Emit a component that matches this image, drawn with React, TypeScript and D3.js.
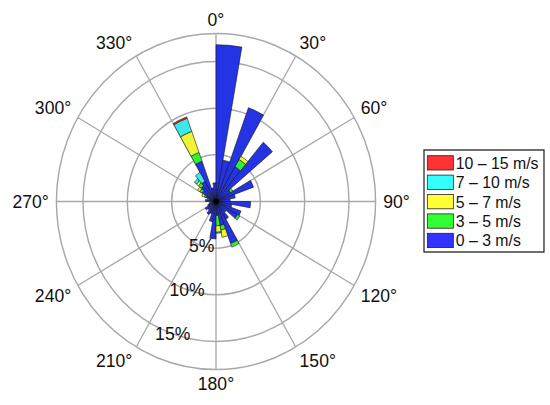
import React from 'react';
import * as d3 from 'd3';

// Direction bins (start angle, degrees clockwise from north), 10° wide
const directions = [0, 10, 20, 30, 40, 50, 60, 70, 80, 90, 100, 110, 120, 130, 140, 150, 160, 170,
  180, 190, 200, 210, 220, 230, 240, 250, 260, 270, 280, 290, 300, 310, 320, 330, 340, 350];

// Frequency (%) per speed class for each direction bin
const speed0to3 = [16.8, 4.5, 10.7, 4.3, 8.3, 1.9, 4.5, 2.2, 1.6, 3.9, 1.8, 3.0, 2.8, 1.5, 2.2, 4.8, 2.6, 1.5,
  4.0, 2.2, 1.4, 1.6, 1.2, 1.4, 1.0, 0.8, 0.6, 1.2, 0.8, 1.2, 1.8, 2.2, 2.5, 4.6, 1.5, 2.0];
const speed3to5 = [0, 0, 0, 0.9, 0, 0.3, 0, 0, 0, 0, 0, 0, 0.3, 0, 0, 0.4, 0.5, 1.1,
  0, 0, 0, 0, 0, 0, 0, 0, 0, 0, 0.2, 0.2, 0.3, 0.4, 0, 1.0, 0, 0];
const speed5to7 = [0, 0, 0, 0.4, 0, 0, 0, 0, 0, 0, 0, 0, 0, 0, 0, 0, 0.8, 0.7,
  0, 0, 0, 0, 0, 0, 0, 0, 0, 0, 0, 0.3, 0.3, 0.3, 0, 2.4, 0, 0];
const speed7to10 = [0, 0, 0, 0, 0, 0, 0, 0, 0, 0, 0, 0, 0, 0, 0, 0, 0, 0.1,
  0, 0, 0, 0, 0, 0, 0, 0, 0, 0, 0, 0, 0, 0.3, 1.1, 1.5, 0, 0];
const speed10to15 = [0, 0, 0, 0, 0, 0, 0, 0, 0, 0, 0, 0, 0, 0, 0, 0, 0, 0,
  0, 0, 0, 0, 0, 0, 0, 0, 0, 0, 0, 0, 0, 0, 0, 0.15, 0, 0];

const speedKeys = ['s0', 's1', 's2', 's3', 's4'];
const speedLabels = ['0 – 3 m/s', '3 – 5 m/s', '5 – 7 m/s', '7 – 10 m/s', '10 – 15 m/s'];
const barColors = ['#2434e4', '#33ee33', '#f0f533', '#3ce8e8', '#ff3333'];
const legendColors = ['#3333ff', '#33ff33', '#ffff33', '#33ffff', '#ff3333'];

const angleTicks = [0, 30, 60, 90, 120, 150, 180, 210, 240, 270, 300, 330];
const pctTicks = [5, 10, 15];
const outerPct = 18;

const W = 550;
const H = 405;
const cx = 216;
const cy = 201.5;
const xStretch = 0.95;
const binWidth = 10;
const FONT = '"Liberation Sans", Arial, Helvetica, sans-serif';

export default function App() {
  const r = d3.scaleLinear().domain([0, outerPct]).range([0, 168]);
  const rad = (deg: number) => (deg * Math.PI) / 180;

  const rows = directions.map((d, i) => ({
    dir: d,
    s0: speed0to3[i],
    s1: speed3to5[i],
    s2: speed5to7[i],
    s3: speed7to10[i],
    s4: speed10to15[i],
  }));
  const stacked = d3.stack<any>().keys(speedKeys)(rows);
  const arc = d3.arc<any>();

  const labelR = 176;
  const capH = 13;

  return (
    <svg width={W} height={H} style={{ position: 'absolute', left: 0, top: 0, background: '#fff' }}
      fontFamily={FONT}>
      <rect x={0} y={0} width={W} height={H} fill="#fff" />
      <g transform={`translate(${cx},${cy}) scale(${xStretch},1)`}>
        {/* grid */}
        {angleTicks.map((a) => (
          <line key={'sp' + a} x1={0} y1={0}
            x2={r(outerPct) * Math.sin(rad(a))} y2={-r(outerPct) * Math.cos(rad(a))}
            stroke="#a8a8a8" strokeWidth={1.4} />
        ))}
        {[...pctTicks, outerPct].map((p) => (
          <circle key={'c' + p} cx={0} cy={0} r={r(p)} fill="none" stroke="#a8a8a8" strokeWidth={1.5} />
        ))}
        {/* bars */}
        {stacked.map((layer, li) => (
          <g key={'layer' + li}>
            {layer.map((pt: any, i: number) => {
              const y0 = pt[0];
              const y1 = pt[1];
              if (y1 - y0 <= 0) return null;
              const d = arc({
                innerRadius: r(y0),
                outerRadius: r(y1),
                startAngle: rad(directions[i]),
                endAngle: rad(directions[i] + binWidth),
              });
              return (
                <path key={i} d={d || ''} fill={barColors[li]} stroke="#111" strokeWidth={0.6}
                  strokeLinejoin="round" />
              );
            })}
          </g>
        ))}
        <circle cx={0} cy={0} r={3} fill="#000" />
        {/* percent labels */}
        {pctTicks.map((p) => (
          <text key={'p' + p} x={r(p) * Math.sin(rad(199))} y={-r(p) * Math.cos(rad(199)) + capH / 2}
            textAnchor="middle" fontSize={18.5} fill="#111">{p}%</text>
        ))}
        {/* angle labels */}
        {angleTicks.map((a) => {
          const s = Math.sin(rad(a));
          const c = Math.cos(rad(a));
          const x = labelR * s;
          const y = -labelR * c;
          const anchor = s > 0.1 ? 'start' : s < -0.1 ? 'end' : 'middle';
          const dy = c > 0.1 ? 0 : c < -0.1 ? capH : capH / 2;
          return (
            <text key={'a' + a} x={x} y={y + dy} textAnchor={anchor} fontSize={18.5} fill="#111">
              {a}°
            </text>
          );
        })}
      </g>
      {/* legend */}
      <g transform={`translate(424,150) scale(${xStretch},1)`}>
        <rect x={0} y={0} width={126.3} height={102} fill="#fff" stroke="#222" strokeWidth={1.3} />
        {speedLabels.slice().reverse().map((lab, i) => {
          const ci = speedLabels.length - 1 - i;
          const top = 5.7 + 19.4 * i;
          return (
            <g key={lab}>
              <rect x={3.5} y={top} width={27.4} height={14.3} fill={legendColors[ci]} stroke="#222"
                strokeWidth={0.8} />
              <text x={33.4} y={top + 7.15 + 6} fontSize={16.7} fill="#111">{lab}</text>
            </g>
          );
        })}
      </g>
    </svg>
  );
}
